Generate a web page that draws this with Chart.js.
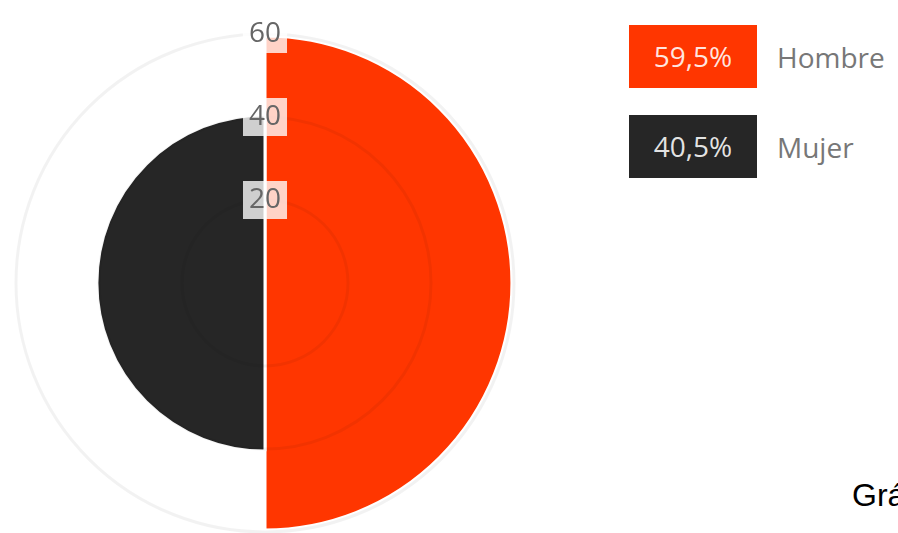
<!DOCTYPE html>
<html>
<head>
<meta charset="utf-8">
<script src="https://cdn.jsdelivr.net/npm/chart.js@4"></script>
<style>
  html, body { margin: 0; padding: 0; background: #fff; }
  body { width: 898px; height: 533px; overflow: hidden; position: relative; font-family: "Open Sans", sans-serif; }
  #chartBox { position: absolute; left: -3px; top: 15px; width: 536px; height: 536px; }
  .legend-row { position: absolute; left: 629px; height: 63px; display: flex; align-items: center; }
  .legend-box { width: 128px; height: 63px; line-height: 63px; text-align: center; color: rgba(255,255,255,0.88); font-size: 28px; }
  .legend-label { margin-left: 20px; color: #777; font-size: 28px; }
  #caption { position: absolute; left: 852px; top: 479px; font-family: "Liberation Sans", Arial, sans-serif; font-size: 32px; line-height: 32px; color: #000; white-space: nowrap; }
</style>
</head>
<body>
<div id="chartBox"><canvas id="sexChart"></canvas></div>
<div id="legend"></div>
<div id="caption">Gráfico</div>
<script>
// Chart data
const labels = ['Hombre', 'Mujer'];
const values = [59.5, 40.5];
const valueText = ['59,5%', '40,5%'];
const colors = ['#ff3600', '#262626'];
const tickValues = [0, 20, 40, 60];

// Build the legend on the right
const legend = document.getElementById('legend');
labels.forEach((label, i) => {
    const row = document.createElement('div');
    row.className = 'legend-row';
    row.style.top = (25 + i * 90) + 'px';
    const box = document.createElement('div');
    box.className = 'legend-box';
    box.style.background = colors[i];
    box.textContent = valueText[i];
    const text = document.createElement('div');
    text.className = 'legend-label';
    text.textContent = label;
    row.appendChild(box);
    row.appendChild(text);
    legend.appendChild(row);
});

const ctx = document.getElementById('sexChart').getContext('2d');
new Chart(ctx, {
    type: 'polarArea',
    data: {
        labels: labels,
        datasets: [{
            data: values,
            backgroundColor: colors,
            borderColor: '#fff',
            borderWidth: 3
        }]
    },
    options: {
        responsive: true,
        maintainAspectRatio: false,
        animation: false,
        plugins: {
            legend: { display: false },
            tooltip: { enabled: false }
        },
        scales: {
            r: {
                min: tickValues[0],
                max: tickValues[tickValues.length - 1],
                afterBuildTicks: scale => {
                    scale.ticks = tickValues.map(v => ({ value: v }));
                },
                grid: {
                    color: 'rgba(0,0,0,0.05)',
                    lineWidth: 3,
                    z: 1
                },
                ticks: {
                    z: 1,
                    color: '#666',
                    font: { family: 'Open Sans', size: 28 },
                    showLabelBackdrop: true,
                    backdropColor: 'rgba(255,255,255,0.78)',
                    backdropPadding: { x: 6, y: 5 }
                }
            }
        }
    }
});
</script>
</body>
</html>
